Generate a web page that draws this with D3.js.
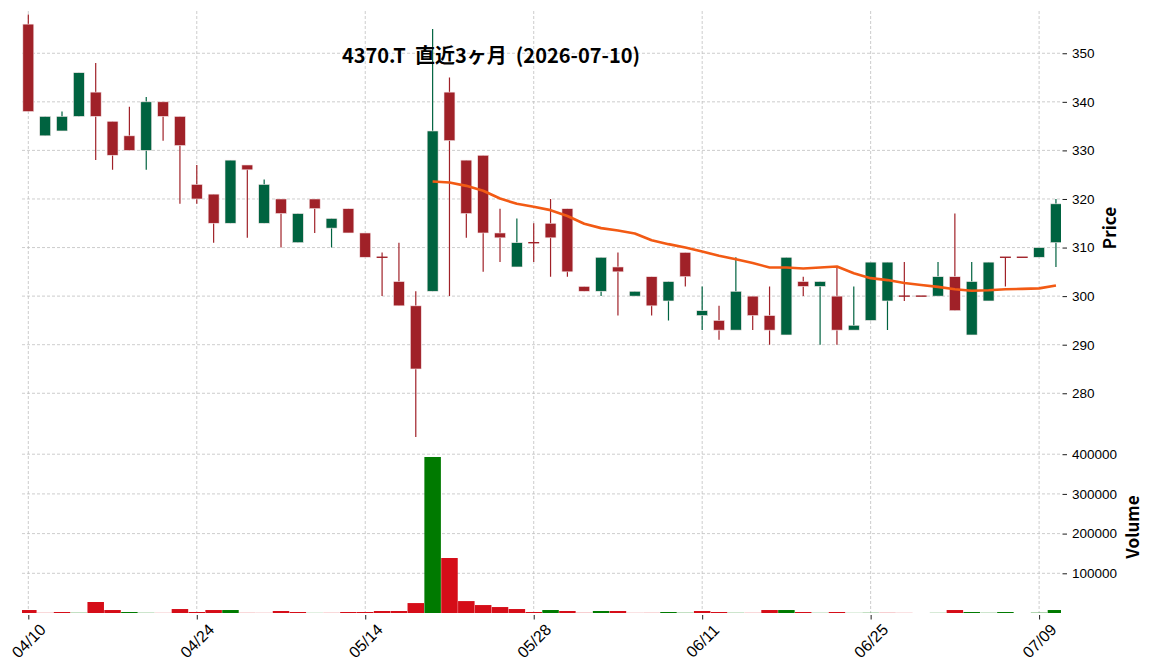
<!DOCTYPE html>
<html>
<head>
<meta charset="utf-8">
<script src="https://cdn.jsdelivr.net/npm/d3@7"></script>
<style>
  html, body { margin: 0; padding: 0; background: #fff; }
  svg { display: block; font-family: "Noto Sans CJK JP", "Noto Sans", sans-serif; }
  .grid line { stroke: #c0c0c0; stroke-width: 0.8; stroke-dasharray: 3 2; }
  .axis line { stroke: #000; stroke-width: 0.9; }
</style>
</head>
<body>
<svg id="chart" width="1152" height="670"></svg>
<script>
// trading days (no gaps)
const dates = [
  "04/10","04/13","04/14","04/15","04/16","04/17","04/20","04/21","04/22","04/23",
  "04/24","04/27","04/28","04/30","05/01","05/07","05/08","05/11","05/12","05/13",
  "05/14","05/15","05/18","05/19","05/20","05/21","05/22","05/25","05/26","05/27",
  "05/28","05/29","06/01","06/02","06/03","06/04","06/05","06/08","06/09","06/10",
  "06/11","06/12","06/15","06/16","06/17","06/18","06/19","06/22","06/23","06/24",
  "06/25","06/26","06/29","06/30","07/01","07/02","07/03","07/06","07/07","07/08",
  "07/09","07/10"
];
const opens = [
  356,333,334,337,342,336,333,330,340,337,
  323,321,315,327,315,320,311,320,314,318,
  313,308,303,298,301,342,328,329,313,306,
  311,315,318,302,301,306,300,304,299,309,
  296,295,293,300,296,292,303,302,300,293,
  295,299,300,300,300,304,292,299,308,308,
  308,311
];
const highs = [
  358,337,338,346,348,336,339,341,340,337,
  327,321,328,327,324,320,317,320,316,318,
  313,309,311,301,355,345,328,329,318,316,
  315,320,318,302,308,309,301,304,303,309,
  302,298,308,300,302,308,304,303,306,302,
  307,307,307,300,307,317,307,307,308,308,
  310,320
];
const lows = [
  338,333,334,337,328,326,330,326,332,319,
  319,311,315,312,315,310,311,313,310,313,
  308,300,298,271,301,300,312,305,307,306,
  307,304,304,301,300,296,300,296,295,302,
  293,291,293,293,290,292,300,290,290,293,
  295,293,299,300,300,297,292,299,302,308,
  308,306
];
const closes = [
  338,337,337,346,337,329,330,340,337,331,
  320,315,328,326,323,317,317,318,316,313,
  308,308,298,285,334,332,317,313,312,311,
  311,312,305,301,308,305,301,298,303,304,
  297,293,301,296,293,308,302,303,293,294,
  307,307,300,300,304,297,303,307,308,308,
  310,319
];
const volumes = [
  7500,400,2500,600,27700,7500,2500,500,300,10000,
  2500,7500,7500,400,300,5000,2500,300,400,2500,
  2500,5000,5000,25000,393000,138500,30000,20000,15000,10000,
  2500,7500,5000,500,5000,5000,300,400,2500,600,
  5000,2500,500,400,7500,7500,2500,400,2500,300,
  600,500,300,0,400,7500,2500,500,2500,0,
  800,7500
];
// moving average line (starts at 05/20)
const maValues = [
  null,null,null,null,null,null,null,null,null,null,
  null,null,null,null,null,null,null,null,null,null,
  null,null,null,null,323.6,323.4,322.7,321.7,320.1,319.0,
  318.4,317.7,316.5,314.9,314.0,313.5,312.9,311.5,310.7,310.0,
  309.2,308.3,307.6,306.8,305.9,305.9,305.7,305.9,306.1,304.7,
  303.7,303.3,302.7,302.3,301.9,301.4,301.1,301.2,301.4,301.5,
  301.6,302.2
];
const priceTicks = [280, 290, 300, 310, 320, 330, 340, 350];
const volumeTicks = [100000, 200000, 300000, 400000];
const titleText = "4370.T  直近3ヶ月  (2026-07-10)";

const data = dates.map((d, i) => ({
  i, date: d, open: opens[i], high: highs[i], low: lows[i], close: closes[i],
  volume: volumes[i], ma: maValues[i],
  prevClose: i > 0 ? closes[i - 1] : null
}));

const upColor = "#006340", downColor = "#a02128";
const volUp = "#007a00", volDown = "#d50d18";

const left = 22, right = 1061;
const priceTop = 11, priceBottom = 441.5, volBottom = 613;

const svg = d3.select("#chart");

const x = d3.scaleLinear().domain([-0.375, 61.3]).range([left, right]);
const yP = d3.scaleLinear().domain([270.07, 358.7]).range([priceBottom, priceTop]);
const yV = d3.scaleLinear().domain([0, 432000]).range([volBottom, priceBottom]);
const step = x(1) - x(0);

const tickIdx = data.filter(d => d.i % 10 === 0).map(d => d.i);

// clip paths for the two panels
const defs = svg.append("defs");
defs.append("clipPath").attr("id", "clipP").append("rect")
  .attr("x", left).attr("y", priceTop).attr("width", right - left).attr("height", priceBottom - priceTop);
defs.append("clipPath").attr("id", "clipV").append("rect")
  .attr("x", left).attr("y", priceBottom).attr("width", right - left).attr("height", volBottom - priceBottom);

// grid lines
const grid = svg.append("g").attr("class", "grid");
grid.selectAll(".vx").data(tickIdx).enter().append("line")
  .attr("x1", d => x(d)).attr("x2", d => x(d))
  .attr("y1", priceTop).attr("y2", volBottom);
grid.selectAll(".hp").data(priceTicks).enter().append("line")
  .attr("x1", left).attr("x2", right)
  .attr("y1", d => yP(d)).attr("y2", d => yP(d));
grid.selectAll(".hv").data(volumeTicks).enter().append("line")
  .attr("x1", left).attr("x2", right)
  .attr("y1", d => yV(d)).attr("y2", d => yV(d));

// volume bars
svg.append("g").attr("clip-path", "url(#clipV)")
  .selectAll("rect")
  .data(data.filter(d => d.volume > 0))
  .enter()
  .append("rect")
  .attr("x", d => x(d.i) - step * 0.49)
  .attr("width", step * 0.98)
  .attr("y", d => yV(d.volume))
  .attr("height", d => volBottom - yV(d.volume))
  .attr("fill", d => d.prevClose !== null && d.close > d.prevClose ? volUp : volDown);

// candles
const candles = svg.append("g").attr("clip-path", "url(#clipP)");
const colorOf = d => d.close > d.open ? upColor : downColor;

candles.selectAll("line.wick")
  .data(data.filter(d => d.high > d.low))
  .enter()
  .append("line")
  .attr("class", "wick")
  .attr("x1", d => x(d.i)).attr("x2", d => x(d.i))
  .attr("y1", d => yP(d.high)).attr("y2", d => yP(d.low))
  .attr("stroke", colorOf)
  .attr("stroke-width", 1.2);

const bodyW = step * 0.65;
const bodyH = d => Math.abs(yP(d.open) - yP(d.close));
candles.selectAll("rect.body")
  .data(data)
  .enter()
  .append("rect")
  .attr("class", "body")
  .attr("x", d => x(d.i) - bodyW / 2)
  .attr("width", bodyW)
  .attr("y", d => bodyH(d) < 1.4 ? yP(d.close) - 0.7 : yP(Math.max(d.open, d.close)))
  .attr("height", d => Math.max(bodyH(d), 1.4))
  .attr("fill", colorOf)
  .attr("stroke", d => bodyH(d) > 3 ? "#f6e8ea" : "none")
  .attr("stroke-width", 0.6);

// moving average
const maLine = d3.line()
  .defined(d => d.ma !== null)
  .x(d => x(d.i))
  .y(d => yP(d.ma));

candles.append("path")
  .datum(data)
  .attr("d", maLine)
  .attr("fill", "none")
  .attr("stroke", "#f25a14")
  .attr("stroke-width", 2.6)
  .attr("stroke-linejoin", "round");

// right axes
const axP = svg.append("g")
  .attr("class", "axis")
  .attr("transform", `translate(${right + 1.5},0)`)
  .call(d3.axisRight(yP).tickValues(priceTicks).tickSize(4.5).tickPadding(5));
axP.select(".domain").remove();

const axV = svg.append("g")
  .attr("class", "axis")
  .attr("transform", `translate(${right + 1.5},0)`)
  .call(d3.axisRight(yV).tickValues(volumeTicks).tickFormat(d3.format("d")).tickSize(4.5).tickPadding(5));
axV.select(".domain").remove();

svg.selectAll(".axis text")
  .style("font-size", "13.5px")
  .attr("fill", "#000");

// bottom axis with rotated date labels
const axX = svg.append("g")
  .attr("class", "axis")
  .attr("transform", `translate(0,${volBottom + 2})`)
  .call(d3.axisBottom(x).tickValues(tickIdx).tickFormat(i => dates[i]).tickSize(4.5).tickPadding(0));
axX.select(".domain").remove();
axX.selectAll("text")
  .attr("text-anchor", "middle")
  .attr("dy", null)
  .attr("y", null)
  .attr("dominant-baseline", "central")
  .attr("transform", "translate(0,26) rotate(-45)")
  .style("font-size", "16px")
  .attr("fill", "#000");

// axis labels
svg.append("text")
  .attr("transform", "translate(1116,228) rotate(-90)")
  .attr("text-anchor", "middle")
  .attr("font-size", 17)
  .attr("font-weight", "bold")
  .text("Price");

svg.append("text")
  .attr("transform", "translate(1139,527) rotate(-90)")
  .attr("text-anchor", "middle")
  .attr("font-size", 17)
  .attr("font-weight", "bold")
  .text("Volume");

// title
svg.append("text")
  .attr("x", 491)
  .attr("y", 63)
  .attr("text-anchor", "middle")
  .attr("font-size", 20)
  .attr("font-weight", "bold")
  .attr("xml:space", "preserve")
  .style("white-space", "pre")
  .text(titleText);
</script>
</body>
</html>
